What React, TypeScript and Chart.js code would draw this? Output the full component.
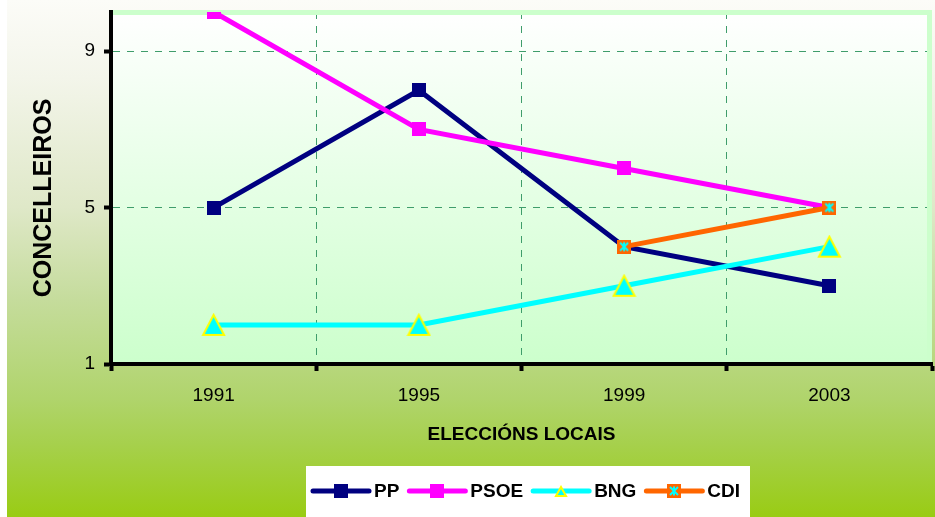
import { useEffect, useRef } from "react";
import { Chart, registerables } from "chart.js";

Chart.register(...registerables);

const categories = ["1991", "1995", "1999", "2003"];
const ppValues = [5, 8, 4, 3];
const psoeValues = [10, 7, 6, 5];
const bngValues = [2, 2, 3, 4];
const cdiValues: (number | null)[] = [null, null, 4, 5];
const yTicks = [1, 5, 9];
const seriesNames = ["PP", "PSOE", "BNG", "CDI"];
const yTitle = "CONCELLEIROS";
const xTitle = "ELECCIÓNS LOCAIS";

const FONT = "Arial, 'Liberation Sans', sans-serif";
const PP_COLOR = "#000080";
const PSOE_COLOR = "#ff00ff";
const BNG_COLOR = "#00ffff";
const CDI_COLOR = "#ff6600";
const GRID_COLOR = "#3f9d6b";

function mk(w: number, h: number) {
  const c = document.createElement("canvas");
  c.width = w;
  c.height = h;
  return c;
}

function squareMarker(size: number, fill: string) {
  const c = mk(size, size);
  const g = c.getContext("2d")!;
  g.fillStyle = fill;
  g.fillRect(0, 0, size, size);
  return c;
}

function triangleMarker(w: number, h: number) {
  const c = mk(w, h);
  const g = c.getContext("2d")!;
  const lw = 2;
  g.beginPath();
  g.moveTo(w / 2, lw);
  g.lineTo(w - lw, h - lw);
  g.lineTo(lw, h - lw);
  g.closePath();
  g.fillStyle = BNG_COLOR;
  g.fill();
  g.lineWidth = lw;
  g.strokeStyle = "#ffff00";
  g.lineJoin = "miter";
  g.stroke();
  return c;
}

function starSquareMarker(size: number) {
  const c = mk(size, size);
  const g = c.getContext("2d")!;
  g.fillStyle = CDI_COLOR;
  g.fillRect(0, 0, size, size);
  g.strokeStyle = "#00ffff";
  g.lineWidth = 2;
  const i = 3;
  g.beginPath();
  g.moveTo(i, i);
  g.lineTo(size - i, size - i);
  g.moveTo(size - i, i);
  g.lineTo(i, size - i);
  g.moveTo(size / 2, i - 0.5);
  g.lineTo(size / 2, size - i + 0.5);
  g.stroke();
  return c;
}

function zeroPad(s: any) {
  s.paddingTop = 0;
  s.paddingBottom = 0;
  s.paddingLeft = 0;
  s.paddingRight = 0;
}

export default function App() {
  const ref = useRef<HTMLCanvasElement | null>(null);

  useEffect(() => {
    document.body.style.margin = "0";
    const canvas = ref.current!;
    const markers = [
      squareMarker(14, PP_COLOR),
      squareMarker(14, PSOE_COLOR),
      triangleMarker(25, 24),
      starSquareMarker(14),
    ];
    const legendMarkers = [
      squareMarker(14, PP_COLOR),
      squareMarker(14, PSOE_COLOR),
      triangleMarker(14, 13),
      starSquareMarker(14),
    ];
    const colors = [PP_COLOR, PSOE_COLOR, BNG_COLOR, CDI_COLOR];

    const bgPlugin = {
      id: "bgPlugin",
      beforeDraw(chart: any) {
        const { ctx, width, height, chartArea } = chart;
        ctx.save();
        ctx.fillStyle = "#ffffff";
        ctx.fillRect(0, 0, width, height);
        const gr = ctx.createLinearGradient(0, 0, 0, height);
        gr.addColorStop(0, "#fcfcf8");
        gr.addColorStop(0.15, "#f3f5ea");
        gr.addColorStop(0.4, "#dfe8c8");
        gr.addColorStop(0.58, "#c5dc9c");
        gr.addColorStop(0.77, "#b0d46c");
        gr.addColorStop(0.86, "#a6d04c");
        gr.addColorStop(1, "#99cc14");
        ctx.fillStyle = gr;
        ctx.fillRect(7, 0, width - 7, height);
        const pg = ctx.createLinearGradient(0, chartArea.top, 0, chartArea.bottom);
        pg.addColorStop(0, "#ffffff");
        pg.addColorStop(1, "#ccffcc");
        ctx.fillStyle = pg;
        ctx.fillRect(chartArea.left, chartArea.top, chartArea.right - chartArea.left, chartArea.bottom - chartArea.top);
        ctx.restore();
      },
      beforeDatasetsDraw(chart: any) {
        const { ctx, chartArea } = chart;
        ctx.save();
        ctx.strokeStyle = "#ccffcc";
        ctx.lineWidth = 5;
        ctx.beginPath();
        ctx.moveTo(chartArea.left + 2, chartArea.top + 0.5);
        ctx.lineTo(chartArea.right - 2.5, chartArea.top + 0.5);
        ctx.lineTo(chartArea.right - 2.5, chartArea.bottom - 2);
        ctx.stroke();
        ctx.restore();
      },
      afterDraw(chart: any) {
        const { ctx, chartArea } = chart;
        ctx.save();
        ctx.fillStyle = "#000";
        ctx.textAlign = "center";
        ctx.textBaseline = "middle";
        ctx.font = `bold 19px ${FONT}`;
        ctx.fillText(xTitle, (chartArea.left + chartArea.right) / 2, 435);
        ctx.save();
        ctx.translate(44, 198);
        ctx.rotate(-Math.PI / 2);
        ctx.font = `bold 25px ${FONT}`;
        ctx.fillText(yTitle, 0, 0);
        ctx.restore();

        // legend
        ctx.fillStyle = "#ffffff";
        ctx.fillRect(306, 466, 444, 60);
        const cy = 491;
        let x = 313;
        ctx.font = `bold 19px ${FONT}`;
        ctx.textAlign = "left";
        seriesNames.forEach((name, i) => {
          ctx.strokeStyle = colors[i];
          ctx.lineWidth = 5;
          ctx.lineCap = "round";
          ctx.beginPath();
          ctx.moveTo(x, cy);
          ctx.lineTo(x + 56, cy);
          ctx.stroke();
          const m = legendMarkers[i];
          ctx.drawImage(m, Math.round(x + 28 - m.width / 2), Math.round(cy - m.height / 2));
          ctx.fillStyle = "#000";
          ctx.fillText(name, x + 61, cy + 1);
          x += 61 + ctx.measureText(name).width + 10;
        });
        ctx.restore();
      },
    };

    const gridColor = (c: any) => (c.type === "tick" ? GRID_COLOR : "rgba(0,0,0,0)");

    const chart = new Chart(canvas, {
      type: "line",
      data: {
        labels: categories,
        datasets: [
          { label: seriesNames[0], data: ppValues, borderColor: PP_COLOR, backgroundColor: PP_COLOR, pointStyle: markers[0] as any, order: 4 },
          { label: seriesNames[1], data: psoeValues, borderColor: PSOE_COLOR, backgroundColor: PSOE_COLOR, pointStyle: markers[1] as any, order: 3 },
          { label: seriesNames[2], data: bngValues, borderColor: BNG_COLOR, backgroundColor: BNG_COLOR, pointStyle: markers[2] as any, order: 2 },
          { label: seriesNames[3], data: cdiValues, borderColor: CDI_COLOR, backgroundColor: CDI_COLOR, pointStyle: markers[3] as any, order: 1 },
        ].map((d) => ({ ...d, borderWidth: 5, pointRadius: 8, tension: 0, spanGaps: false, fill: false })),
      },
      options: {
        animation: false,
        responsive: false,
        maintainAspectRatio: false,
        layout: { autoPadding: false, padding: { left: 7, top: 12, right: 3, bottom: 0 } },
        plugins: { legend: { display: false }, tooltip: { enabled: false } },
        scales: {
          x: {
            type: "category",
            offset: true,
            grid: {
              offset: true,
              color: gridColor,
              lineWidth: 1,
              drawTicks: true,
              tickLength: 7,
              tickColor: "#000",
              tickWidth: 4,
              tickBorderDash: [],
            },
            border: { display: true, color: "#000", width: 4, dash: [7, 7] },
            ticks: { color: "#000", font: { size: 19, family: FONT }, padding: 13 },
            afterFit: (s: any) => {
              s.height = 153;
              zeroPad(s);
            },
          },
          y: {
            min: 1,
            max: 10,
            afterBuildTicks: (s: any) => {
              s.ticks = yTicks.map((v) => ({ value: v }));
            },
            grid: {
              color: (c: any) => (c.type === "tick" && c.tick && c.tick.value !== yTicks[0] ? GRID_COLOR : "rgba(0,0,0,0)"),
              lineWidth: 1,
              drawTicks: true,
              tickLength: 7,
              tickColor: "#000",
              tickWidth: 4,
              tickBorderDash: [],
            },
            border: { display: true, color: "#000", width: 4, dash: [7, 7] },
            ticks: { color: "#000", font: { size: 19, family: FONT }, padding: 9 },
            afterFit: (s: any) => {
              s.width = 104;
              zeroPad(s);
            },
          },
        },
      } as any,
      plugins: [bgPlugin],
    });

    return () => chart.destroy();
  }, []);

  return <canvas ref={ref} width={935} height={517} style={{ display: "block" }} />;
}
